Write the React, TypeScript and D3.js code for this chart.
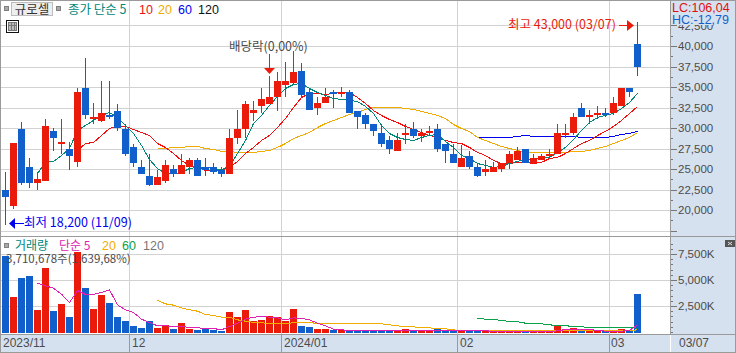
import React from "react";
import * as d3 from "d3";

const opens = [22550,20500,30000,25250,23300,23550,29750,28050,27450,25950,34900,31100,30950,31600,32100,30000,27800,25250,24250,23150,23650,25100,24500,25250,26200,25250,25350,25000,24500,28800,29900,31950,32700,32950,33800,35250,35500,37050,34400,32450,33050,34400,34150,34500,32100,31700,30600,29500,28550,27300,29150,30000,29050,29400,30000,28050,26950,25350,26700,25250,24750,24750,25100,25850,26200,27550,25750,26100,26600,26850,29150,29500,32450,31450,31600,31850,31950,32700,35000,40250];
const closes = [21600,28200,23400,23400,23900,30250,28900,28400,26700,34500,31600,31350,31850,31350,30100,26950,25850,24500,23150,24050,25500,24400,25600,26200,24250,24900,24750,24500,28800,29900,32950,32300,33550,33900,35850,35850,36950,34050,32300,33050,33900,34150,34500,31950,31450,30500,29650,28050,27450,28550,29500,29050,29500,29650,27450,27300,25850,26350,25350,24250,25100,25250,25850,26950,27200,25750,26450,26700,26950,29500,29400,31450,31450,31700,31850,31600,33150,34900,34400,37450];
const highs = [24650,28200,30850,26350,24650,31100,30100,31100,28300,34900,38550,33150,35750,35750,32950,30600,28150,26100,26950,25000,26100,25500,26950,26450,26350,26450,25850,25350,30000,32300,33400,33300,34900,36350,36850,38150,39500,37950,35000,33900,35000,34650,35100,34750,32100,31950,30600,30500,29050,29400,30600,30850,30000,30350,30600,28150,28050,27950,27200,25750,26200,25950,25850,27300,27700,27550,26850,26850,27550,30600,30500,31950,33050,32200,32700,32550,33800,35000,35000,43000];
const lows = [18200,20150,23150,22800,22450,23550,27300,26850,25000,25350,31100,30500,30750,31100,29650,26600,25350,24500,22950,23150,23300,24050,24500,24500,24250,24250,24400,24050,24400,28150,28800,30950,31950,32950,32100,33800,35250,33800,32200,31600,33050,32450,33800,31950,30000,30000,29050,27800,26850,27200,28050,28900,28400,29050,27100,25850,25750,25350,25100,24050,24150,24650,24750,25100,26100,25750,25750,26100,26450,26850,28800,29250,31350,30600,31200,31350,31700,32700,33900,36450];

const ma5Start = 4;
const ma5 = [24510,25860,25980,26710,27560,29760,30370,30980,31590,31950,31340,30370,29390,27930,26220,25120,24510,24510,24630,25120,25250,25250,25120,25000,25370,26950,28540,30610,31590,32810,33900,34880,35370,35490,34880,34390,34030,33660,33540,33420,33290,32680,31830,30370,29390,28900,28660,28540,28900,29150,29270,28420,27690,26710,26340,25730,25490,25250,25370,25730,25980,26220,26220,26340,26470,27080,27690,28660,29760,30730,31340,31590,31830,32440,33170,34270];
const ma10Start = 9;
const ma10 = [27320,28170,28290,29150,30000,30250,30250,29880,29510,29150,28170,27690,26950,26100,25490,25250,24880,24880,24880,25250,25980,26950,27690,28540,29150,30120,31220,32560,33780,34270,34270,34150,34270,34390,34390,33780,33050,32200,31590,31100,30730,30250,29880,29510,29150,28900,28540,28290,28170,27690,27080,26710,26100,25730,25730,25860,25860,25730,25860,26340,26470,26950,27560,28170,28540,29150,29640,30250,30980,31830,32680];
const ma20Start = 19;
const ma20 = [27560,27560,27690,27690,27810,27810,27560,27440,27200,27200,27080,27080,27080,27200,27320,27690,28170,28780,29150,29510,30120,30610,30980,31340,31710,31950,32320,32560,32560,32560,32560,32440,32320,32080,31830,31590,31220,30490,30000,29640,28900,28540,28170,27810,27560,27320,27080,27080,27080,27080,27080,27080,27200,27200,27320,27560,27810,28170,28540,28900,29510];
const ma60Start = 59;
const ma60 = [28900,28900,28900,28900,28900,29030,29150,29030,29030,29030,29030,29030,29030,28900,28900,28900,28900,29030,29270,29390,29640];

const volumes = [7370,3400,5220,5420,2150,6190,2050,2720,1470,7720,4260,2240,3590,2820,1470,1090,610,420,1090,420,705,320,900,320,225,420,225,130,1955,1470,2150,1090,1190,1570,1470,1090,2240,610,510,320,320,225,225,225,225,130,130,130,130,130,320,130,130,130,320,130,130,130,130,130,130,130,130,130,130,65,130,130,130,610,130,420,130,130,130,130,130,320,130,3711];
const volMa5Start = 4;
const volMa5 = [4743,4487,4263,3686,2885,4038,3654,3654,3846,4102,2660,2180,1923,1282,961,641,641,577,577,481,449,385,385,256,577,897,1282,1474,1538,1474,1410,1218,1410,1346,1218,897,641,320,256,192,192,192,192,192,192,192,192,192,192,192,192,192,192,192,192,192,192,64,64,64,64,64,64,64,64,160,288,320,320,288,192,128,128,128,192,737];
const volMa20Start = 19;
const volMa20 = [3077,2756,2628,2372,2180,2051,1731,1635,1474,1474,1218,1090,962,930,865,865,865,930,962,962,865,833,833,833,833,833,833,833,833,737,641,545,545,449,449,353,353,256,160,160,160,160,180,180,180,180,180,180,180,180,180,180,180,180,180,180,180,180,180,190,256];
const volMa60Start = 59;
const volMa60 = [1346,1282,1250,1154,1058,1026,897,865,833,737,673,673,545,545,481,481,481,481,481,481,417];

const priceGrid = [17500,20000,22500,25000,27500,30000,32500,35000,37500,40000,42500];
const priceTicks = [20000,22500,25000,27500,30000,32500,35000,37500,40000,42500];
const volumeTicks = [2500,5000,7500];
const monthLabels = ["2023/11","12","2024/01","02","03"];
const monthGridX = [129,281,457,609];
const monthTextX = [3,132,284,460,611];

const RED = "#ea1b0b";
const BLUE = "#115fcb";
const TEAL = "#00877a";
const ORANGE = "#f0ad00";
const AXIS = "#d6e1ef";
const GRID = "#d2d2d2";
const FRAME = "#9a9a9a";
const INK = "#4c4c4c";
const FONT = "'Liberation Sans','Noto Sans CJK KR',sans-serif";
const KFONT = "'Noto Sans CJK KR','Liberation Sans',sans-serif";

const x = d3.scaleLinear().domain([0, 79]).range([5.5, 637.5]);
const yP = d3.scaleLinear().domain([25000, 40000]).range([169.5, 46.5]);
const yV = d3.scaleLinear().domain([0, 7500]).range([332.5, 254.5]);

function series(values: number[], start: number, y: d3.ScaleLinear<number, number>) {
  const line = d3.line<number>().x((_, i) => x(i + start)).y((d) => y(d));
  return line(values) ?? "";
}

function snap(v: number) {
  return Math.round(v);
}

function Line({ d, c }: { d: string; c: string }) {
  return <path d={d} fill="none" stroke={c} strokeWidth={1} shapeRendering="crispEdges" />;
}

function Square({ px, py }: { px: number; py: number }) {
  return <rect x={px + 0.5} y={py + 0.5} width={4} height={4} fill="#a8a8a8" stroke="#808080" strokeWidth={1} shapeRendering="crispEdges" />;
}

export default function App() {
  const n = opens.length;
  const idx = d3.range(n);
  const priceMinor = d3.range(17500, 42501, 1250);
  const volMinor = d3.range(0, 8501, 500);
  return (
    <svg width={736} height={353} viewBox="0 0 736 353" style={{ position: "absolute", left: 0, top: 0, display: "block", background: "#fff" }}>
      {/* horizontal grid */}
      {priceGrid.map((t) => (
        <line key={t} x1={1} x2={670} y1={snap(yP(t) - 0.5) + 0.5} y2={snap(yP(t) - 0.5) + 0.5} stroke={GRID} shapeRendering="crispEdges" />
      ))}
      {volumeTicks.map((t) => (
        <line key={t} x1={1} x2={670} y1={snap(yV(t) - 0.5) + 0.5} y2={snap(yV(t) - 0.5) + 0.5} stroke={GRID} shapeRendering="crispEdges" />
      ))}
      {monthGridX.map((g) => (
        <line key={g} x1={g + 0.5} x2={g + 0.5} y1={1} y2={334} stroke={GRID} shapeRendering="crispEdges" />
      ))}

      {/* moving averages under the candles */}
      <Line d={series(ma60, ma60Start, yP)} c="#0000f0" />
      <Line d={series(ma20, ma20Start, yP)} c={ORANGE} />
      <Line d={series(ma10, ma10Start, yP)} c="#f01010" />
      <Line d={series(ma5, ma5Start, yP)} c={TEAL} />

      {/* candles */}
      {idx.map((i) => {
        const c = closes[i] >= opens[i] ? RED : BLUE;
        const top = snap(yP(Math.max(opens[i], closes[i])));
        const bot = snap(yP(Math.min(opens[i], closes[i])));
        return (
          <g key={i} shapeRendering="crispEdges">
            <line x1={x(i)} x2={x(i)} y1={yP(highs[i])} y2={yP(lows[i])} stroke={c} />
            <rect x={x(i) - 3.5} y={top} width={7} height={Math.max(bot - top, 1)} fill={c} />
          </g>
        );
      })}

      {/* volume bars */}
      {idx.map((i) => {
        const c = closes[i] >= opens[i] ? RED : BLUE;
        const top = snap(yV(volumes[i]));
        return <rect key={i} x={x(i) - 3.5} y={top} width={7} height={Math.max(333 - top, 1)} fill={c} shapeRendering="crispEdges" />;
      })}
      <Line d={series(volMa60, volMa60Start, yV)} c="#0ba14a" />
      <Line d={series(volMa20, volMa20Start, yV)} c={ORANGE} />
      <Line d={series(volMa5, volMa5Start, yV)} c="#e020b0" />

      {/* annotations */}
      <text x={229} y={51} fontFamily={KFONT} fontSize={12.5} fill={INK}>배당락(0,00%)</text>
      <line x1={x(33)} x2={x(33)} y1={54} y2={70} stroke={RED} shapeRendering="crispEdges" />
      <path d={`M${x(33) - 5.5},68 H${x(33) + 5.5} L${x(33)},74 Z`} fill={RED} />
      <text x={508} y={28.5} fontFamily={KFONT} fontSize={12.5} fill={RED}>최고 43,000 (03/07)</text>
      <line x1={619} x2={629} y1={25.5} y2={25.5} stroke={RED} shapeRendering="crispEdges" />
      <path d="M627,20 L634,25.5 L627,31 Z" fill={RED} />
      <text x={24} y={226.5} fontFamily={KFONT} fontSize={12.5} fill="#0000f0">최저 18,200 (11/09)</text>
      <line x1={13} x2={24} y1={223.5} y2={223.5} stroke="#0000f0" shapeRendering="crispEdges" />
      <path d="M9,223.5 L15,218 L15,229 Z" fill="#0000f0" />

      {/* header */}
      <Square px={4} py={6} />
      <rect x={11.5} y={2.5} width={41} height={13} fill="#eeeeee" stroke="#bdbdbd" shapeRendering="crispEdges" />
      <text x={32} y={13.5} textAnchor="middle" fontFamily={KFONT} fontSize={12.5} fill="#333">규로셀</text>
      <Square px={56} py={6} />
      <text x={68} y={14} fontFamily={KFONT} fontSize={12.5} fill={TEAL}>종가 단순 5</text>
      <text x={139} y={14} fontFamily={FONT} fontSize={12.5} fill="#f01010">10</text>
      <text x={158} y={14} fontFamily={FONT} fontSize={12.5} fill={ORANGE}>20</text>
      <text x={178} y={14} fontFamily={FONT} fontSize={12.5} fill="#0000f0">60</text>
      <text x={198} y={14} fontFamily={FONT} fontSize={12.5} fill="#111">120</text>
      <g shapeRendering="crispEdges">
        <rect x={6.5} y={20.5} width={12} height={12} fill="#fff" stroke="#111" />
        <rect x={8.5} y={22.5} width={8} height={8} fill="#bbb" stroke="#777" />
        <line x1={11.5} x2={11.5} y1={23} y2={30} stroke="#777" />
        <line x1={14} x2={14} y1={23} y2={30} stroke="#777" />
        <line x1={9} x2={16} y1={25.5} y2={25.5} stroke="#777" />
      </g>

      {/* volume header */}
      <Square px={4} py={243} />
      <text x={15} y={249.5} fontFamily={KFONT} fontSize={12} fill={TEAL}>거래량</text>
      <text x={59} y={249.5} fontFamily={KFONT} fontSize={12} fill="#e020b0">단순 5</text>
      <text x={102} y={249.5} fontFamily={FONT} fontSize={12.5} fill={ORANGE}>20</text>
      <text x={122} y={249.5} fontFamily={FONT} fontSize={12.5} fill="#0ba14a">60</text>
      <text x={143} y={249.5} fontFamily={FONT} fontSize={12.5} fill="#777">120</text>
      <text x={6} y={263} fontFamily={KFONT} fontSize={11.5} fill={INK}>3,710,678주(1,639,68%)</text>

      {/* right axis */}
      <rect x={670} y={0} width={66} height={353} fill={AXIS} />
      <rect x={0} y={334} width={670} height={18} fill={AXIS} />
      <g shapeRendering="crispEdges" stroke="#777">
        {priceMinor.map((t) => (
          <line key={t} x1={671} x2={t % 2500 === 0 ? 677 : 673} y1={snap(yP(t) - 0.5) + 0.5} y2={snap(yP(t) - 0.5) + 0.5} />
        ))}
        {volMinor.map((t) => (
          <line key={t} x1={671} x2={t % 2500 === 0 && t > 0 ? 677 : 673} y1={snap(yV(t) - 0.5) + 0.5} y2={snap(yV(t) - 0.5) + 0.5} />
        ))}
      </g>
      {priceTicks.map((t) => (
        <text key={t} x={678} y={yP(t) + 3.5} fontFamily={FONT} fontSize={11.5} fill={INK}>{d3.format(",")(t)}</text>
      ))}
      {volumeTicks.map((t) => (
        <text key={t} x={678} y={yV(t) + 3.5} fontFamily={FONT} fontSize={11.5} fill={INK}>{d3.format(",")(t)}K</text>
      ))}
      <rect x={671} y={1} width={65} height={24} fill={AXIS} />
      <text x={672} y={12} fontFamily={FONT} fontSize={12.5} fill="#e01010">LC:106,04</text>
      <text x={672} y={24} fontFamily={FONT} fontSize={12.5} fill={BLUE}>HC:-12,79</text>
      <rect x={725} y={240} width={10} height={7} fill="#555" />
      <path d="M728,242 L732,245 M732,242 L728,245" stroke="#ddd" strokeWidth={1} />

      {/* x labels */}
      {monthLabels.map((l, i) => (
        <text key={l} x={monthTextX[i]} y={347} fontFamily={FONT} fontSize={12} fill={INK}>{l}</text>
      ))}
      <text x={679} y={347} fontFamily={FONT} fontSize={12} fill={INK}>03/07</text>

      {/* frames */}
      <g shapeRendering="crispEdges" stroke={FRAME} fill="none">
        <rect x={0.5} y={0.5} width={735} height={352} />
        <line x1={0} x2={736} y1={236.5} y2={236.5} />
        <line x1={0} x2={736} y1={334.5} y2={334.5} />
        <line x1={670.5} x2={670.5} y1={0} y2={334} />
        {monthGridX.map((g) => (
          <line key={g} x1={g + 0.5} x2={g + 0.5} y1={335} y2={352} />
        ))}
      </g>
      <line x1={670.5} x2={670.5} y1={335} y2={352} stroke="#fff" shapeRendering="crispEdges" />
    </svg>
  );
}
